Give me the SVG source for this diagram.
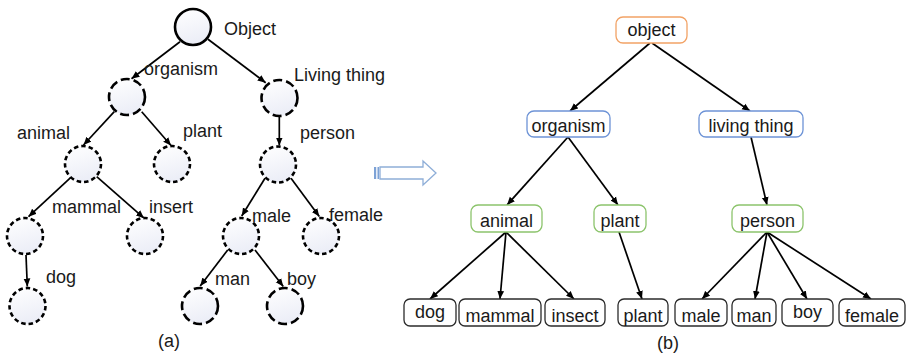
<svg xmlns="http://www.w3.org/2000/svg" width="907" height="354" viewBox="0 0 907 354">
<defs>
<linearGradient id="cf" x1="0" y1="0" x2="0.3" y2="1">
<stop offset="0" stop-color="#ffffff"/>
<stop offset="1" stop-color="#eceef7"/>
</linearGradient>
<marker id="ah" viewBox="0 0 8 8" markerWidth="8" markerHeight="8" refX="8" refY="4" orient="auto" markerUnits="userSpaceOnUse">
<path d="M0,0.6 L8,4 L0,7.4 z" fill="#000"/>
</marker>
<style>
text{font-family:"Liberation Sans",Arial,sans-serif;font-size:18px;fill:#1a1a1a}
.c{fill:url(#cf);stroke:#000;stroke-width:2.6}
.ld{stroke-dasharray:9 4}
.sd{stroke-dasharray:4.5 3}
.e{stroke:#000;stroke-width:1.7;fill:none;marker-end:url(#ah)}
.b{fill:#fff;stroke-width:1.3}
.bo{stroke:#f2a265}
.bb{stroke:#6d93d6}
.bg{stroke:#8cc46c}
.bk{stroke:#2b2b2b}
.m{text-anchor:middle}
</style>
</defs>
<rect width="907" height="354" fill="#fff"/>

<g id="connectors">
<line class="e" x1="180" y1="41.7" x2="131.5" y2="78.8"/>
<line class="e" x1="208" y1="39.3" x2="265.7" y2="82.7"/>
<line class="e" x1="279.3" y1="116" x2="279.3" y2="145.5"/>
<line class="e" x1="114.3" y1="111.7" x2="83.5" y2="145"/>
<line class="e" x1="141.7" y1="111.7" x2="171" y2="145.5"/>
<line class="e" x1="71.7" y1="176.7" x2="28.5" y2="216.7"/>
<line class="e" x1="96.7" y1="176.7" x2="144" y2="218.2"/>
<line class="e" x1="26" y1="255" x2="27.3" y2="286.5"/>
<line class="e" x1="265" y1="178.3" x2="241.7" y2="216"/>
<line class="e" x1="291" y1="178.3" x2="319.3" y2="216.5"/>
<line class="e" x1="227.7" y1="250" x2="200.2" y2="286"/>
<line class="e" x1="255" y1="250" x2="283.3" y2="286.5"/>

<line class="e" x1="650" y1="43" x2="570" y2="111"/>
<line class="e" x1="652" y1="43" x2="750" y2="111"/>
<line class="e" x1="568" y1="137" x2="507" y2="205"/>
<line class="e" x1="568" y1="137" x2="618" y2="205"/>
<line class="e" x1="751" y1="137" x2="767" y2="205"/>
<line class="e" x1="506" y1="232" x2="430" y2="299"/>
<line class="e" x1="506" y1="232" x2="500" y2="299"/>
<line class="e" x1="506" y1="232" x2="574" y2="299"/>
<line class="e" x1="619" y1="232" x2="642" y2="299"/>
<line class="e" x1="767" y1="232" x2="702" y2="299"/>
<line class="e" x1="767" y1="232" x2="755" y2="299"/>
<line class="e" x1="767" y1="232" x2="807" y2="299"/>
<line class="e" x1="767" y1="232" x2="871" y2="299"/>
</g>

<g id="a-object"><circle class="c" cx="193" cy="27" r="18"/><text x="224" y="35">Object</text></g>
<g id="a-organism"><circle class="c ld" cx="127" cy="97" r="18"/><text x="144" y="75">organism</text></g>
<g id="a-living-thing"><circle class="c ld" cx="279.5" cy="98" r="18"/><text x="294" y="81">Living thing</text></g>
<g id="a-animal"><circle class="c sd" cx="83" cy="164" r="18"/><text x="17" y="139">animal</text></g>
<g id="a-plant"><circle class="c sd" cx="172" cy="164" r="18"/><text x="183" y="137">plant</text></g>
<g id="a-person"><circle class="c sd" cx="278" cy="164.5" r="18"/><text x="300" y="139">person</text></g>
<g id="a-mammal"><circle class="c sd" cx="25" cy="236" r="18"/><text x="52" y="213">mammal</text></g>
<g id="a-insert"><circle class="c sd" cx="145" cy="236" r="18"/><text x="149" y="213">insert</text></g>
<g id="a-dog"><circle class="c sd" cx="27.5" cy="306" r="18"/><text x="46" y="283">dog</text></g>
<g id="a-male"><circle class="c sd" cx="241" cy="236" r="18"/><text x="252" y="222">male</text></g>
<g id="a-female"><circle class="c sd" cx="321" cy="236" r="18"/><text x="329" y="221">female</text></g>
<g id="a-man"><circle class="c ld" cx="200" cy="306" r="18"/><text x="215" y="285">man</text></g>
<g id="a-boy"><circle class="c ld" cx="285" cy="306" r="18"/><text x="287" y="285">boy</text></g>
<text class="m" x="169" y="347">(a)</text>

<g id="transform-arrow">
<rect x="374" y="167" width="2.2" height="12" fill="#7da2d6"/>
<rect x="377.5" y="167" width="1.6" height="12" fill="#7da2d6"/>
<path d="M380,167 L423,167 L423,161 L436,173 L423,185 L423,179 L380,179 Z" fill="#fff" stroke="#8eaed8" stroke-width="1.3"/>
</g>

<g id="b-object"><rect class="b bo" x="616" y="17" width="71" height="26" rx="7"/><text class="m" x="651.5" y="36">object</text></g>
<g id="b-organism"><rect class="b bb" x="527" y="111" width="83" height="26" rx="7"/><text class="m" x="568.5" y="131.5">organism</text></g>
<g id="b-living-thing"><rect class="b bb" x="699" y="111" width="104" height="26" rx="7"/><text class="m" x="751" y="131.5">living thing</text></g>
<g id="b-animal"><rect class="b bg" x="471" y="205" width="71" height="27" rx="7"/><text class="m" x="506.5" y="226.5">animal</text></g>
<g id="b-plant"><rect class="b bg" x="594" y="205" width="52" height="27" rx="7"/><text class="m" x="620" y="226.5">plant</text></g>
<g id="b-person"><rect class="b bg" x="732" y="205" width="71" height="27" rx="7"/><text class="m" x="767.5" y="226.5">person</text></g>
<g id="b-dog"><rect class="b bk" x="404" y="299" width="52" height="27" rx="6"/><text class="m" x="430" y="318">dog</text></g>
<g id="b-mammal"><rect class="b bk" x="459" y="299" width="82" height="27" rx="6"/><text class="m" x="500" y="321.5">mammal</text></g>
<g id="b-insect"><rect class="b bk" x="545" y="299" width="60" height="27" rx="6"/><text class="m" x="575" y="321.5">insect</text></g>
<g id="b-plant2"><rect class="b bk" x="618" y="299" width="50" height="27" rx="6"/><text class="m" x="643" y="321.5">plant</text></g>
<g id="b-male"><rect class="b bk" x="675" y="299" width="52" height="27" rx="6"/><text class="m" x="701" y="321.5">male</text></g>
<g id="b-man"><rect class="b bk" x="732" y="299" width="44" height="27" rx="6"/><text class="m" x="754" y="321.5">man</text></g>
<g id="b-boy"><rect class="b bk" x="782" y="299" width="51" height="27" rx="6"/><text class="m" x="807.5" y="318">boy</text></g>
<g id="b-female"><rect class="b bk" x="839" y="299" width="66" height="27" rx="6"/><text class="m" x="872" y="321.5">female</text></g>
<text class="m" x="668" y="349">(b)</text>
</svg>
